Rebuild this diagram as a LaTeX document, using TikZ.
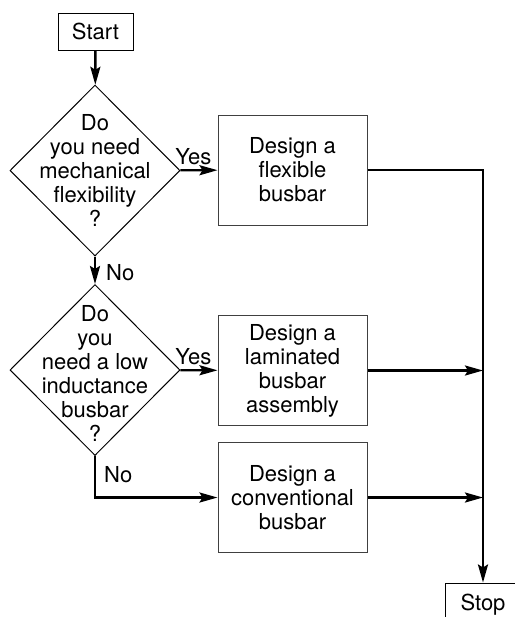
\documentclass[tikz,border=0pt]{standalone}
\usepackage{fontspec}
\setmainfont{TeX Gyre Heros}
\usetikzlibrary{calc,shapes.geometric,arrows.meta}

\begin{document}
\begin{tikzpicture}[x=0.5pt,y=-0.5pt,
    font=\fontsize{11}{12}\selectfont,
    terminal/.style={draw,line width=0.5pt,minimum width=37.5pt,minimum height=18.5pt,inner sep=0pt},
    process/.style={draw=black!75,line width=0.5pt,minimum width=74.5pt,minimum height=55pt,align=center,inner sep=0pt},
    decision/.style={draw,diamond,line width=0.5pt,minimum width=85pt,minimum height=85.5pt,inner sep=0pt},
    qtext/.style={align=center,inner sep=0pt},
    conn/.style={line width=1.2pt,-{Stealth[length=9pt,width=5pt,inset=1.5pt]}},
    lbl/.style={inner sep=2pt}]
  \useasboundingbox (0,0) rectangle (515,617);
  \clip (0,0) rectangle (515,617);

  %% Terminals
  \node[terminal] (start) at (95.5,31.5) {Start};
  \node[terminal,minimum width=38pt,minimum height=22pt] (stop) at (483,605) {Stop};

  %% Questions
  \node[decision] (q1) at (95,170.5) {};
  \node[qtext] (q1t) at (q1) {Do\\you need\\mechanical\\flexibility\\?};
  \node[decision] (q2) at (95,370) {};
  \node[qtext] (q2t) at ($(q2)+(0,3)$) {Do\\you\\need a low\\inductance\\busbar\\?};

  %% Design boxes
  \node[process] (flex) at (292.5,170) {Design a\\flexible\\busbar};
  \node[process] (lam)  at (292.5,370.5) {Design a\\laminated\\busbar\\assembly};
  \node[process] (conv) at (292.5,497.5) {Design a\\conventional\\busbar};

  %% Connectors
  \draw[conn] (start) -- (q1);
  \draw[conn] (q1) -- node[lbl,right,inner xsep=5pt,pos=0.6] {No} (q2);
  \draw[conn] (q1) -- node[lbl,above,pos=0.35] {Yes} (flex);
  \draw[conn] (q2) -- node[lbl,above,pos=0.35] {Yes} (lam);
  \draw[conn] (q2.south) |- node[lbl,right,inner xsep=4pt,pos=0.22] {No} (conv);
  \draw[conn] (flex) -| (stop);
  \draw[conn] (lam) -- (lam -| stop);
  \draw[conn] (conv) -- (conv -| stop);
\end{tikzpicture}
\end{document}
